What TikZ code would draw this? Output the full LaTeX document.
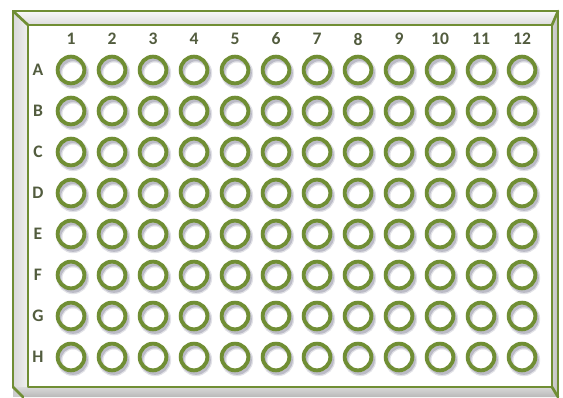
\documentclass[tikz,border=0pt]{standalone}
\usepackage{fontspec}
\setmainfont{Carlito}
\definecolor{plategreen}{RGB}{112,142,52}
\definecolor{labelgrey}{RGB}{82,92,62}
\definecolor{shadowgrey}{RGB}{140,140,160}

\begin{document}
\begin{tikzpicture}[x=0.03cm, y=-0.03cm,
  rim/.style={draw=plategreen, line width=2.3pt, line join=round, line cap=round},
  well/.style={circle, draw=plategreen, line width=3.3pt, minimum size=0.8cm,
               inner sep=0pt},
  wellshadow/.style={circle, draw=shadowgrey, minimum size=0.8cm, inner sep=0pt},
  lbl/.style={font=\fontsize{15}{17}\selectfont\bfseries, text=labelgrey,
              inner sep=0pt}
]
  \useasboundingbox (0,0) rectangle (563,398);

  % plate frame
  \fill[gray!40] (13,11) rectangle (558,397);
  \shade[top color=gray!5, bottom color=gray!28] (13,11) -- (558,11) -- (552,25) -- (28,25) -- cycle;
  \shade[left color=gray!30, right color=gray!12] (13,11) -- (28,25) -- (28,387) -- (13,387) -- cycle;
  \shade[top color=gray!30, bottom color=gray!55] (13,387) -- (552,387) -- (558,397) -- (23,397) -- cycle;
  \shade[left color=gray!35, right color=gray!50] (552,25) -- (558,11) -- (558,397) -- (552,387) -- cycle;
  \fill[white] (28,25) rectangle (552,387);
  \draw[rim] (13,387) -- (13,11) -- (558,11) -- (558,397);
  \draw[rim] (28,25) rectangle (552,387);
  \draw[rim] (13,11) -- (28,25);
  \draw[rim] (558,11) -- (552,25);
  \draw[rim] (552,387) -- (558,397);
  \draw[rim] (13,387) -- (23,397);

  % column numbers
  \foreach \c in {1,...,12}
    \node[lbl] (col-\c) at ({71+41*(\c-1)},39) {\c};

  % rows of wells
  \foreach \r [count=\i] in {A,B,C,D,E,F,G,H} {
    \node[lbl] (row-\r) at (38,{70+41*(\i-1)}) {\r};
    \foreach \c in {1,...,12} {
      \node[wellshadow, line width=4.8pt, opacity=0.25] (shw-\r\c) at ({73+41*(\c-1)},{73+41*(\i-1)}) {};
      \node[wellshadow, line width=2.6pt, opacity=0.45] (sh-\r\c) at ({73+41*(\c-1)},{73+41*(\i-1)}) {};
      \node[well] (well-\r\c) at ({71+41*(\c-1)},{70+41*(\i-1)}) {};
    }
  }
\end{tikzpicture}
\end{document}
